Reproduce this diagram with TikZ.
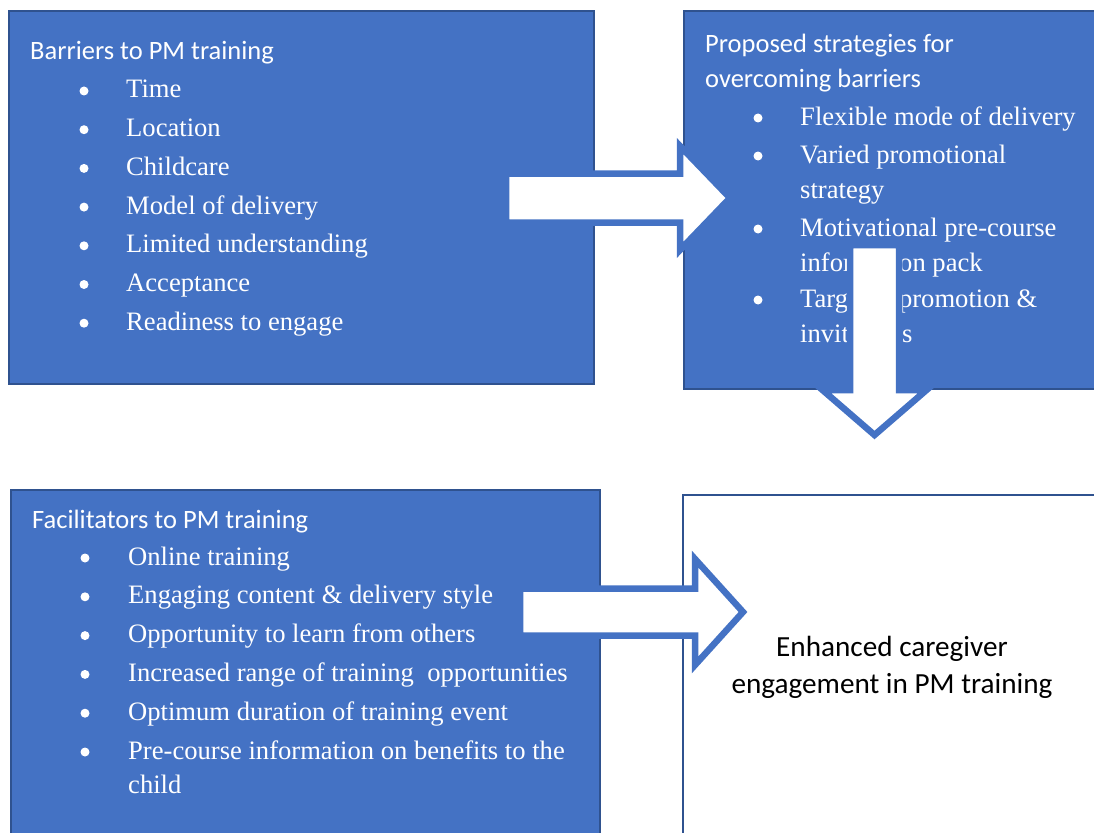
\documentclass[tikz,border=0pt]{standalone}
\usepackage{fontspec}
\setmainfont{Liberation Serif}
\newfontfamily\headfont{Carlito}
\usepackage{tikz}
\usetikzlibrary{calc}
\definecolor{boxblue}{HTML}{4472C4}
\definecolor{edgeblue}{HTML}{2F528F}

\tikzset{
  bluebox/.style={draw=edgeblue, line width=2pt, fill=boxblue, anchor=north west, inner sep=0pt},
  whitebox/.style={draw=edgeblue, line width=2pt, fill=white, anchor=north west, inner sep=0pt},
  headtext/.style={anchor=base west, inner sep=0pt, text=white, font=\headfont\fontsize{26.5}{30}\selectfont},
  itemtext/.style={anchor=base west, inner sep=0pt, text=white, font=\fontsize{26.6}{30}\selectfont},
  goaltext/.style={anchor=base, inner sep=0pt, font=\headfont\fontsize{29.2}{34}\selectfont},
  dot/.style={circle, fill=white, inner sep=0pt, minimum size=9pt},
  blockarrow/.style={fill=white, draw=boxblue, line width=6.5pt, line join=miter},
}

\begin{document}
\begin{tikzpicture}[x=1pt, y=-1pt]
        \useasboundingbox (0,0) rectangle (1094,832);

        % the four boxes
        \node[bluebox, minimum width=585pt, minimum height=373pt] (barriers) at (8,10) {};
        \node[bluebox, minimum width=427pt, minimum height=378pt] (strategies) at (683,10) {};
        \node[bluebox, minimum width=589pt, minimum height=356pt] (facilitators) at (10,489) {};
        \node[whitebox, minimum width=420pt, minimum height=351pt] (outcome) at (682,494) {};

        % Barriers
        \node[headtext] (barhead) at (30,60) {Barriers to PM training};
        \foreach \txt [count=\i] in {Time, Location, Childcare, Model of delivery,
            Limited understanding, Acceptance, Readiness to engage}{
            \node[dot] (bardot\i) at (84, {98+38.7*(\i-1)-7}) {};
            \node[itemtext] (baritem\i) at (126, {98+38.7*(\i-1)}) {\txt};
        }

        % Strategies
        \node[headtext] (strathead1) at (705,53) {Proposed strategies for};
        \node[headtext] (strathead2) at (705,88) {overcoming barriers};
        \foreach \y/\txt [count=\i] in {125/Flexible mode of delivery, 163/Varied promotional,
            198/strategy, 236/Motivational pre-course, 271/information pack,
            307/Targeted promotion \&, 342/invitations}
            \node[itemtext] (stratitem\i) at (800,\y) {\txt};
        \foreach \y [count=\i] in {125,163,236,307}
            \node[dot] (stratdot\i) at (758,\y-7) {};

        % Facilitators
        \node[headtext] (fachead) at (32,528) {Facilitators to PM training};
        \foreach \txt [count=\i] in {Online training, Engaging content \& delivery style,
            Opportunity to learn from others, Increased range of training~ opportunities,
            Optimum duration of training event, Pre-course information on benefits to the}{
            \node[dot] (facdot\i) at (85, {565+38.8*(\i-1)-7}) {};
            \node[itemtext] (facitem\i) at (128, {565+38.8*(\i-1)}) {\txt};
        }
        \node[itemtext] (facitem7) at (128,793) {child};

        % Outcome
        \node[goaltext] (goal1) at (892,656) {Enhanced caregiver};
        \node[goaltext] (goal2) at (892,693) {engagement in PM training};

        % block arrows
        \coordinate (arrAtail) at (506,198);
        \coordinate (arrAbase) at (680,198);
        \coordinate (arrAtip) at (730,198);
        \draw[blockarrow] ($(arrAtail)+(0,-24.5)$) -- ($(arrAbase)+(0,-24.5)$) -- ($(arrAbase)+(0,-52)$)
            -- (arrAtip) -- ($(arrAbase)+(0,52)$) -- ($(arrAbase)+(0,24.5)$) -- ($(arrAtail)+(0,24.5)$) -- cycle;

        \coordinate (arrBtail) at (874.5,245);
        \coordinate (arrBbase) at (874.5,390);
        \coordinate (arrBtip) at (874.5,435);
        \draw[blockarrow] ($(arrBtail)+(-24.5,0)$) -- ($(arrBbase)+(-24.5,0)$) -- ($(arrBbase)+(-52,0)$)
            -- (arrBtip) -- ($(arrBbase)+(52,0)$) -- ($(arrBbase)+(24.5,0)$) -- ($(arrBtail)+(24.5,0)$) -- cycle;

        \coordinate (arrCtail) at (520,612);
        \coordinate (arrCbase) at (695,612);
        \coordinate (arrCtip) at (743,612);
        \draw[blockarrow] ($(arrCtail)+(0,-23.5)$) -- ($(arrCbase)+(0,-23.5)$) -- ($(arrCbase)+(0,-53)$)
            -- (arrCtip) -- ($(arrCbase)+(0,53)$) -- ($(arrCbase)+(0,23.5)$) -- ($(arrCtail)+(0,23.5)$) -- cycle;
\end{tikzpicture}
\end{document}
